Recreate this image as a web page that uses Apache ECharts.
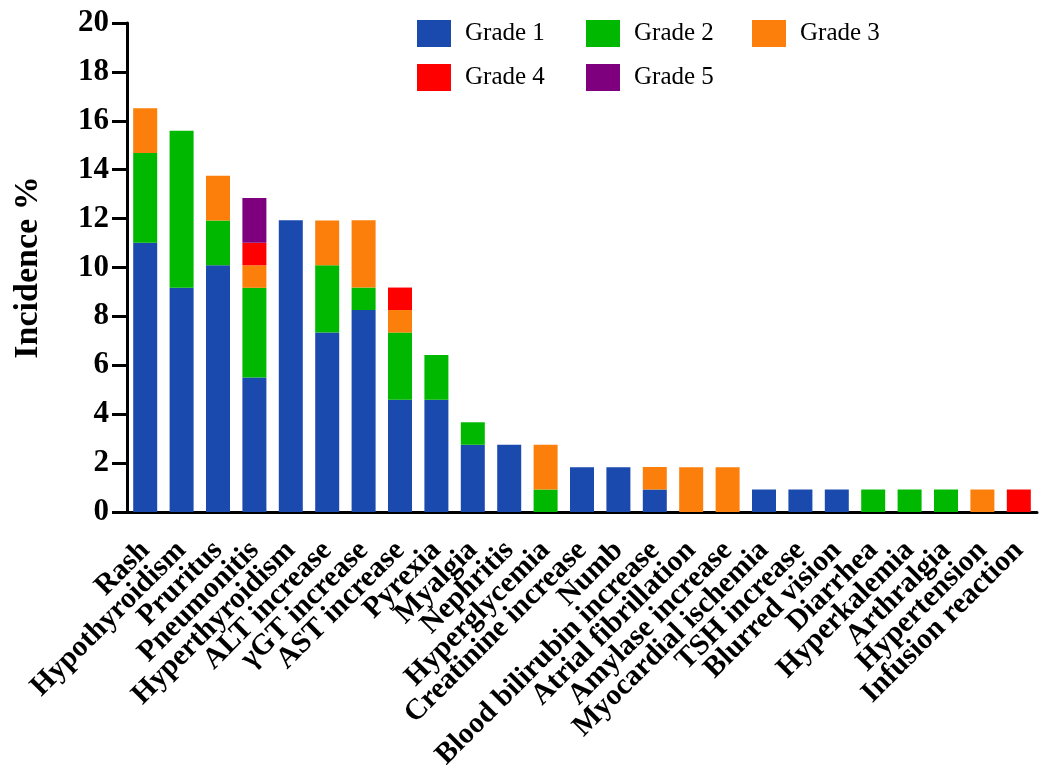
<!DOCTYPE html>
<html>
<head>
<meta charset="utf-8">
<script src="https://cdn.jsdelivr.net/npm/echarts@6/dist/echarts.min.js"></script>
<style>
  html, body { margin: 0; padding: 0; background: #fff; }
  #chart { width: 1051px; height: 765px; }
</style>
</head>
<body>
<div id="chart"></div>
<script>
// Adverse events by grade (incidence %)
var categories = [
  'Rash', 'Hypothyroidism', 'Pruritus', 'Pneumonitis', 'Hyperthyroidism',
  'ALT increase', 'γGT increase', 'AST increase', 'Pyrexia', 'Myalgia',
  'Nephritis', 'Hyperglycemia', 'Creatinine increase', 'Numb',
  'Blood bilirubin increase', 'Atrial fibrillation', 'Amylase increase',
  'Myocardial ischemia', 'TSH increase', 'Blurred vision', 'Diarrhea',
  'Hyperkalemia', 'Arthralgia', 'Hypertension', 'Infusion reaction'
];
var grade1 = [11.01, 9.17, 10.09, 5.50, 11.93, 7.34, 8.26, 4.59, 4.59, 2.75, 2.75, 0, 1.83, 1.83, 0.92, 0, 0, 0.92, 0.92, 0.92, 0, 0, 0, 0, 0];
var grade2 = [3.67, 6.42, 1.83, 3.67, 0, 2.75, 0.92, 2.75, 1.83, 0.92, 0, 0.92, 0, 0, 0, 0, 0, 0, 0, 0, 0.92, 0.92, 0.92, 0, 0];
var grade3 = [1.83, 0, 1.83, 0.92, 0, 1.83, 2.75, 0.92, 0, 0, 0, 1.83, 0, 0, 0.92, 1.83, 1.83, 0, 0, 0, 0, 0, 0, 0.92, 0];
var grade4 = [0, 0, 0, 0.92, 0, 0, 0, 0.92, 0, 0, 0, 0, 0, 0, 0, 0, 0, 0, 0, 0, 0, 0, 0, 0, 0.92];
var grade5 = [0, 0, 0, 1.83, 0, 0, 0, 0, 0, 0, 0, 0, 0, 0, 0, 0, 0, 0, 0, 0, 0, 0, 0, 0, 0];
var gradeNames = ['Grade 1', 'Grade 2', 'Grade 3', 'Grade 4', 'Grade 5'];
var yTicks = { min: 0, max: 20, interval: 2 };

var colors = ['#1B4AAF', '#00B800', '#FB7F0A', '#FF0000', '#7F007F'];
var serif = '"Liberation Serif", "Times New Roman", serif';
var gradeData = [grade1, grade2, grade3, grade4, grade5];

var series = gradeNames.map(function (name, i) {
  return {
    name: name,
    type: 'bar',
    stack: 'total',
    barWidth: 24,
    itemStyle: { color: colors[i] },
    emphasis: { disabled: true },
    data: gradeData[i]
  };
});

// one legend block per item so the entries sit in a fixed 3-column grid
var legendPos = [[417, 20], [586, 20], [752, 20], [417, 64], [586, 64]];
var legends = gradeNames.map(function (name, i) {
  return {
    data: [{ name: name, icon: 'rect' }],
    left: legendPos[i][0],
    top: legendPos[i][1],
    padding: 0,
    itemWidth: 34,
    itemHeight: 27,
    selectedMode: false,
    textStyle: { fontFamily: serif, fontSize: 25, color: '#000', padding: [2, 0, 0, 9] }
  };
});

var chart = echarts.init(document.getElementById('chart'));
chart.setOption({
  animation: false,
  color: colors,
  legend: legends,
  grid: { left: 127, right: 14, top: 23, bottom: 253, containLabel: false, outerBoundsMode: 'none' },
  xAxis: {
    type: 'category',
    data: categories,
    axisLine: { lineStyle: { color: '#000', width: 3 } },
    axisTick: { alignWithLabel: true, length: 15, lineStyle: { color: '#000', width: 3 } },
    axisLabel: {
      interval: 0,
      rotate: 45,
      margin: 34,
      fontFamily: serif,
      fontWeight: 'bold',
      fontSize: 29.5,
      color: '#000'
    }
  },
  yAxis: {
    type: 'value',
    min: yTicks.min,
    max: yTicks.max,
    interval: yTicks.interval,
    name: 'Incidence %',
    nameLocation: 'middle',
    nameRotate: 90,
    nameGap: 82,
    nameTextStyle: { fontFamily: serif, fontWeight: 'bold', fontSize: 34, color: '#000' },
    splitLine: { show: false },
    axisLine: { show: true, lineStyle: { color: '#000', width: 3 } },
    axisTick: { show: true, length: 15, lineStyle: { color: '#000', width: 3 } },
    axisLabel: {
      margin: 18,
      fontFamily: serif,
      fontWeight: 'bold',
      fontSize: 31,
      color: '#000'
    }
  },
  series: series
});
</script>
</body>
</html>
